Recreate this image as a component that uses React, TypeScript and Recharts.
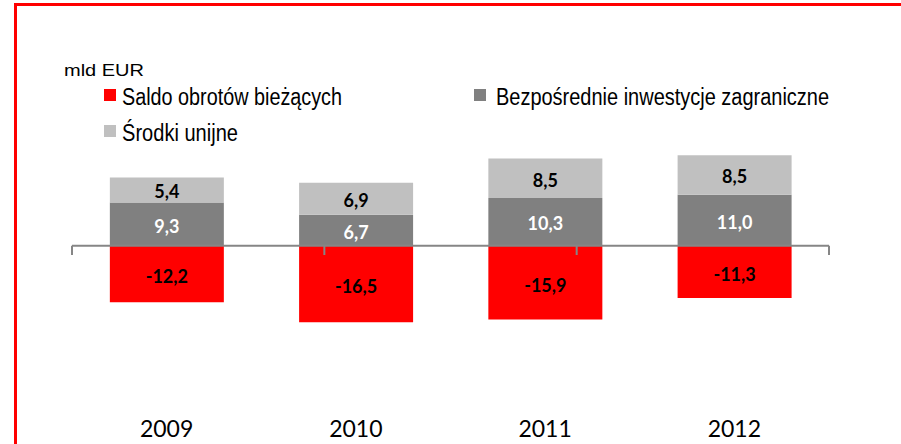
import React from 'react';
import { BarChart, Bar, XAxis, YAxis, ReferenceLine, LabelList, Legend } from 'recharts';

const years = ['2009', '2010', '2011', '2012'];
const saldo = [-12.2, -16.5, -15.9, -11.3];
const bezposrednie = [9.3, 6.7, 10.3, 11.0];
const srodki = [5.4, 6.9, 8.5, 8.5];

const seriesNames = ['Saldo obrotów bieżących', 'Bezpośrednie inwestycje zagraniczne', 'Środki unijne'];
const unitLabel = 'mld EUR';

const RED = '#FF0000';
const GRAY = '#808080';
const LIGHT = '#C0C0C0';
const AXIS = '#868686';

const data = years.map((y, i) => ({
  year: y,
  saldo: saldo[i],
  bezp: bezposrednie[i],
  srodki: srodki[i],
}));

const boundaries = [...years.map((_, i) => i), years.length];

const fmt = (v: any) => Number(v).toFixed(1).replace('.', ',');

const NARROW = "'Liberation Sans', Arial, sans-serif";
const LABEL_FONT = "Lato, 'Open Sans', sans-serif";

const renderLegend = () => (
  <svg width={901} height={150} style={{ display: 'block' }}>
    <text x={64} y={76} fontFamily={NARROW} fontSize={16} fill="#000" textLength={80} lengthAdjust="spacingAndGlyphs">{unitLabel}</text>
    <rect x={104} y={89} width={12} height={12} fill={RED} />
    <text x={122} y={105} fontFamily={NARROW} fontSize={23} fill="#000" textLength={220} lengthAdjust="spacingAndGlyphs">{seriesNames[0]}</text>
    <rect x={474} y={89} width={12} height={12} fill={GRAY} />
    <text x={496} y={105} fontFamily={NARROW} fontSize={23} fill="#000" textLength={333} lengthAdjust="spacingAndGlyphs">{seriesNames[1]}</text>
    <rect x={104} y={125} width={12} height={12} fill={LIGHT} />
    <text x={122} y={141} fontFamily={NARROW} fontSize={23} fill="#000" textLength={116} lengthAdjust="spacingAndGlyphs">{seriesNames[2]}</text>
  </svg>
);

export default function App() {
  return (
    <div style={{ position: 'fixed', left: 0, top: 0, width: 901, height: 444, background: '#fff', overflow: 'hidden' }}>
      <div style={{ position: 'absolute', left: 14, top: 3, width: 3, height: 441, background: RED }} />
      <div style={{ position: 'absolute', left: 14, top: 3, width: 887, height: 3, background: RED }} />
      <div style={{ position: 'absolute', left: 0, top: 0 }}>
        <BarChart
          width={901}
          height={444}
          data={data}
          stackOffset="sign"
          barCategoryGap="20%"
          margin={{ top: 153, right: 72, bottom: 0, left: 72 }}
        >
          <XAxis
            xAxisId="cat"
            dataKey="year"
            axisLine={false}
            tickLine={false}
            tickSize={0}
            tickMargin={13}
            height={36}
            interval={0}
            tick={{ fontFamily: LABEL_FONT, fontSize: 23, fill: '#000' }}
          />
          <XAxis xAxisId="num" type="number" domain={[0, years.length]} hide />
          <YAxis domain={[-35, 20]} hide />
          <Legend
            layout="horizontal"
            verticalAlign="middle"
            align="center"
            wrapperStyle={{ left: 0, top: 0, width: 901, height: 150 }}
            content={renderLegend}
          />
          <ReferenceLine xAxisId="cat" y={0} stroke={AXIS} strokeWidth={2} />
          {boundaries.map((b) => (
            <ReferenceLine
              key={b}
              xAxisId="num"
              segment={[{ x: b, y: 0 }, { x: b, y: -2 }]}
              stroke={AXIS}
              strokeWidth={2}
            />
          ))}
          <Bar xAxisId="cat" dataKey="saldo" stackId="a" fill={RED} isAnimationActive={false}>
            <LabelList dataKey="saldo" position="center" formatter={fmt} fill="#000" fontFamily={LABEL_FONT} fontWeight="bold" fontSize={18} dy={3} />
          </Bar>
          <Bar xAxisId="cat" dataKey="bezp" stackId="a" fill={GRAY} isAnimationActive={false}>
            <LabelList dataKey="bezp" position="center" formatter={fmt} fill="#fff" fontFamily={LABEL_FONT} fontWeight="bold" fontSize={18} dy={2} />
          </Bar>
          <Bar xAxisId="cat" dataKey="srodki" stackId="a" fill={LIGHT} isAnimationActive={false}>
            <LabelList dataKey="srodki" position="center" formatter={fmt} fill="#000" fontFamily={LABEL_FONT} fontWeight="bold" fontSize={18} dy={2} />
          </Bar>
        </BarChart>
      </div>
    </div>
  );
}
